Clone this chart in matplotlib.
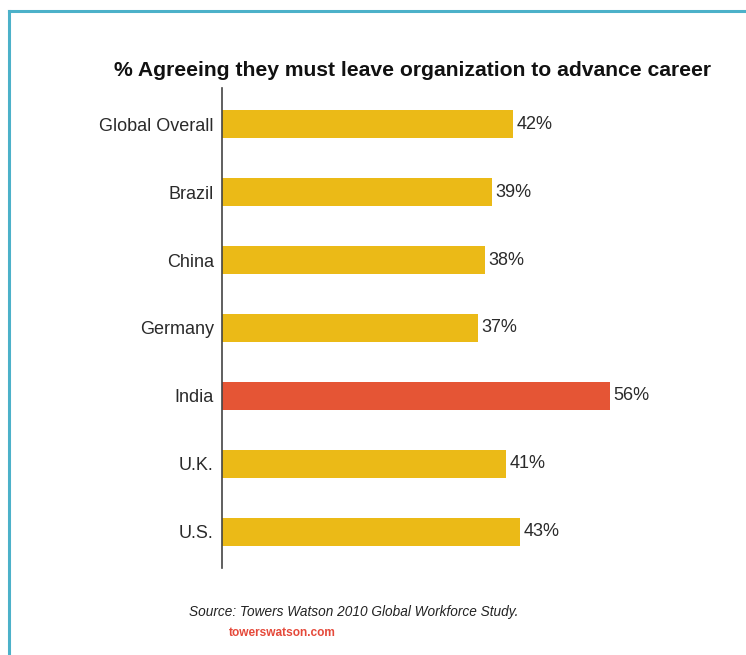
import matplotlib.pyplot as plt
from matplotlib.lines import Line2D

countries = ['Global Overall', 'Brazil', 'China', 'Germany', 'India', 'U.K.', 'U.S.']
values = [42, 39, 38, 37, 56, 41, 43]
highlight = 'India'

yellow = '#EBBA17'
red = '#E55535'

plt.rcParams['font.family'] = ['Liberation Sans', 'DejaVu Sans']

fig = plt.figure(figsize=(7.46, 6.55), dpi=100)
W, H = 746, 655

# blue frame (left and top only, as in the cropped screenshot)
fig.add_artist(Line2D([9 / W, 9 / W], [0, 1 - 11 / H], color='#4CB1C9', lw=2.2,
                      transform=fig.transFigure))
fig.add_artist(Line2D([9 / W, 1], [1 - 11 / H, 1 - 11 / H], color='#4CB1C9', lw=2.2,
                      transform=fig.transFigure))

ax = fig.add_axes([222 / W, (H - 568) / H, 500 / W, 480 / H])

colors = [red if c == highlight else yellow for c in countries]
pos = list(range(len(countries)))
ax.barh(pos, values, height=0.42, color=colors)

ax.set_ylim(len(countries) - 0.47, -0.53)
ax.set_xlim(0, 72.2)

ax.set_yticks(pos)
ax.set_yticklabels(countries, fontsize=13, color='#2a2a2a')
ax.tick_params(axis='y', length=0, pad=6)
ax.set_xticks([])

for s in ['top', 'right', 'bottom']:
    ax.spines[s].set_visible(False)
ax.spines['left'].set_color('#444444')
ax.spines['left'].set_linewidth(1.2)

for p, v in zip(pos, values):
    ax.text(v + 0.5, p, f'{v}%', va='center', ha='left', fontsize=13, color='#2a2a2a')

fig.text(412 / W, 1 - 70 / H, '% Agreeing they must leave organization to advance career',
         ha='center', va='center', fontsize=15.2, fontweight='bold', color='#111111')

fig.text(354 / W, 1 - 612 / H, 'Source: Towers Watson 2010 Global Workforce Study.',
         ha='center', va='center', fontsize=9.8, style='italic', color='#222222')
fig.text(282 / W, 1 - 633 / H, 'towerswatson.com', ha='center', va='center',
         fontsize=8.6, fontweight='bold', color='#E5493A')

fig.savefig('out.png', dpi=100)
